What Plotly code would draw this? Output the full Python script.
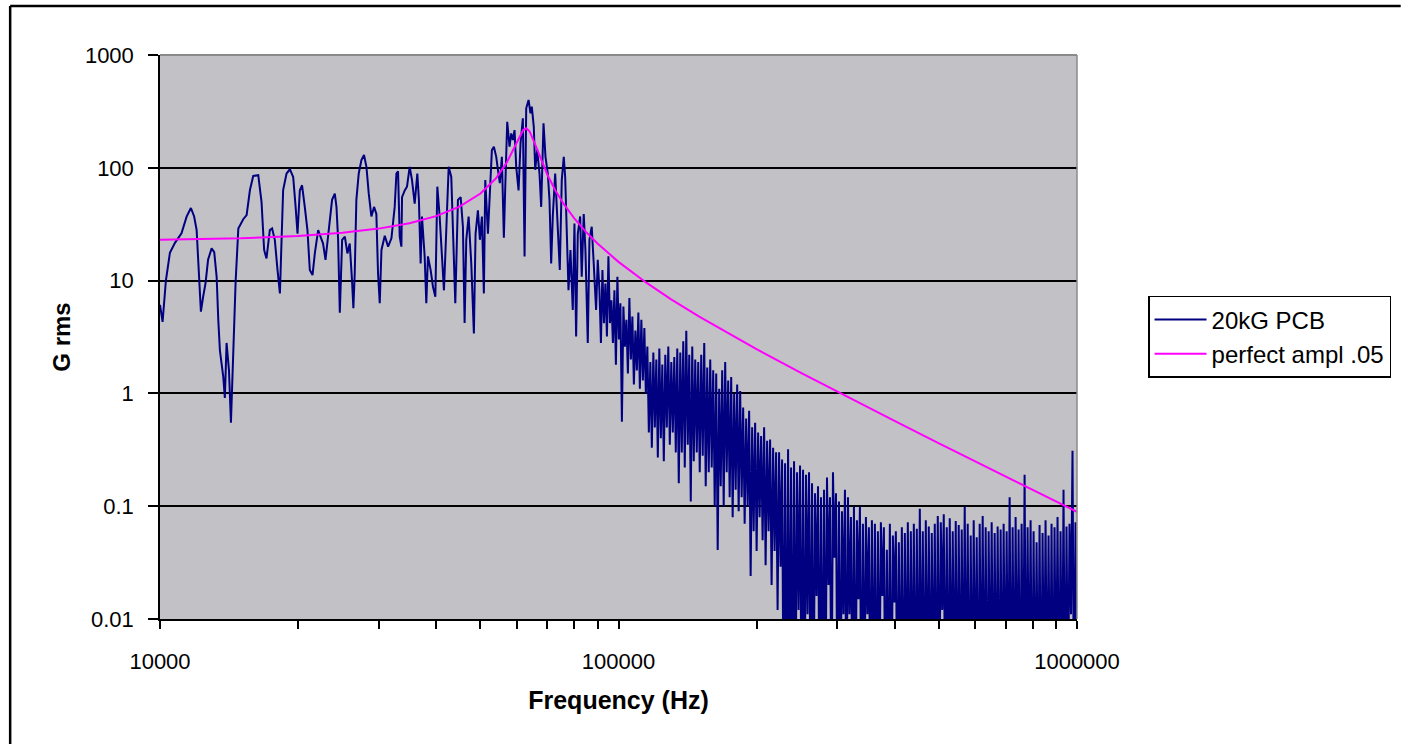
import numpy as np
import plotly.graph_objects as go

# ---------------- data ----------------
# Measured spectrum, 10 kHz .. 90 kHz: traced points (frequency in kHz, G rms)
lf_freq_khz = [
    10.00, 10.08, 10.13, 10.25, 10.30, 10.51, 10.78, 11.14, 11.43, 11.68,
    11.87, 12.02, 12.12, 12.28, 12.42, 12.57, 12.73, 12.96, 13.13, 13.29,
    13.40, 13.51, 13.74, 13.85, 13.97, 14.14, 14.28, 14.37, 14.50, 14.62,
    14.82, 15.19, 15.45, 15.71, 15.97, 16.38, 16.65, 16.87, 17.07, 17.36,
    17.56, 17.80, 18.04, 18.26, 18.56, 18.88, 19.20, 19.52, 19.76, 19.95,
    20.18, 20.41, 20.69, 20.97, 21.22, 21.51, 21.76, 22.13, 22.39, 22.68,
    22.96, 23.19, 23.46, 23.73, 24.06, 24.26, 24.46, 24.67, 24.96, 25.30,
    25.63, 25.93, 26.23, 26.41, 26.59, 26.81, 27.13, 27.50, 27.86, 28.20,
    28.53, 28.91, 29.30, 29.64, 29.89, 30.15, 30.41, 30.92, 31.44, 31.97,
    32.50, 32.78, 33.05, 33.33, 33.61, 33.72, 34.18, 34.57, 35.04, 35.45,
    35.93, 36.41, 36.70, 37.02, 37.27, 37.78, 38.09, 38.41, 38.93, 39.39,
    39.86, 40.26, 40.73, 41.20, 41.62, 42.11, 42.62, 43.18, 43.54, 44.06,
    44.65, 45.26, 45.78, 46.17, 46.56, 47.11, 47.74, 48.37, 48.78, 49.36,
    49.85, 50.36, 50.86, 51.22, 51.91, 52.42, 52.95, 53.48, 54.12, 54.58,
    55.11, 55.67, 56.23, 56.63, 57.19, 57.86, 58.35, 58.83, 59.33, 59.83,
    60.54, 61.14, 61.86, 62.39, 62.91, 63.66, 64.28, 64.70, 65.35, 65.82,
    66.47, 67.25, 67.82, 68.62, 69.30, 70.12, 70.71, 71.31, 71.89, 72.76,
    73.73, 74.46, 75.21, 75.97, 76.51, 77.27, 77.79, 78.56, 79.48, 80.16,
    80.83, 81.51, 82.48, 83.14, 83.98, 84.70, 85.70, 86.42, 87.42, 88.30,
    89.36, 90.11,
]
lf_grms = [
    6.1, 5.0, 4.3, 7.8, 10, 17.6, 21.6, 26.3, 36.9, 44,
    37, 28, 13.3, 5.3, 7.2, 9.5, 15.3, 19.3, 17.9, 10.8,
    4.5, 2.4, 1.4, 0.91, 2.8, 1.6, 0.55, 1.15, 3.5, 9.8,
    29, 35, 38, 63.5, 84.6, 86, 50, 18.7, 15.7, 28,
    29, 23, 12.5, 7.7, 63.5, 89, 97, 83, 45, 26,
    63, 70, 45, 28, 12.4, 11.2, 17.4, 28, 24.5, 21.3,
    15.3, 23, 34.5, 52, 59, 45, 23, 5.2, 23, 24.5,
    17.4, 21.3, 10, 5.7, 11.6, 52, 89, 117, 130, 102,
    59, 37, 45, 39, 11.6, 6.3, 18.7, 25, 20, 23.7,
    45, 89, 93, 24.5, 20, 55, 63, 68, 102, 78,
    48, 89, 52, 14.2, 37, 16.4, 6.3, 16.4, 12.4, 8.8,
    7.2, 68, 37, 16.4, 8.2, 28, 102, 83, 28, 6.3,
    52, 55, 30, 4.2, 23, 37, 14.2, 3.4, 26, 42,
    23, 37, 7.7, 78, 26, 63, 144, 154, 125, 96,
    73, 125, 24, 68, 256, 154, 202, 176, 216, 102,
    63, 165, 275, 16.4, 337, 399, 304, 348, 231, 96,
    144, 89, 45, 248, 125, 89, 52, 14.2, 37, 89,
    28, 12.4, 78, 125, 83, 23, 8.2, 18.7, 5.5, 32,
    3.2, 26, 37, 10.8, 39, 18.7, 2.8, 23, 30, 14.2,
    5.5, 15.3,
]

# Measured spectrum, 90.9 kHz .. 1 MHz (dense FFT bins): alternating
# local maxima and minima read along the band (minima under 0.01 fall
# below the axis and are only estimates)
HF_START_HZ = 90.87e3
HF_STOP_HZ = 1.0e6
hf_peaks = [
    8.2, 12.4, 9.4, 16.4, 6.7, 8.2, 10.8, 6.3,
    5.9, 4.5, 7.0, 4.8, 3.6, 5.2, 4.5, 3.8,
    2.6, 1.9, 2.3, 2.0, 2.5, 1.8, 2.2, 2.6, 1.9, 2.1,
    2.5, 2.3, 2.9, 3.6, 2.2, 2.6, 2.0, 1.9, 2.2, 2.8, 1.7, 2.0, 1.6,
    1.5, 1.1, 1.6, 1.9, 1.3, 1.4, 1.0, 1.2, 1.05, 0.75,
    0.6, 0.7, 0.5, 0.55, 0.45, 0.42, 0.5, 0.38, 0.39, 0.33, 0.3,
    0.3, 0.26, 0.24, 0.32, 0.22, 0.25, 0.2, 0.23, 0.21, 0.19, 0.2,
    0.16, 0.13, 0.15, 0.12, 0.14, 0.18, 0.12, 0.2, 0.13,
    0.11, 0.09, 0.14, 0.12, 0.08, 0.1, 0.075, 0.1, 0.07, 0.08,
    0.065, 0.075, 0.07, 0.06, 0.072, 0.065, 0.041, 0.07, 0.055, 0.06,
    0.048, 0.065, 0.058, 0.072, 0.06, 0.07, 0.063, 0.095, 0.06, 0.075,
    0.066, 0.058, 0.07, 0.082, 0.072, 0.085, 0.065, 0.078, 0.06, 0.074,
    0.068, 0.062, 0.1, 0.07, 0.055, 0.075, 0.053, 0.07, 0.082, 0.065,
    0.06, 0.072, 0.058, 0.066, 0.062, 0.07, 0.06, 0.12, 0.065, 0.08,
    0.062, 0.07, 0.19, 0.065, 0.075, 0.06, 0.048, 0.068, 0.058, 0.075,
    0.055, 0.07, 0.065, 0.08, 0.06, 0.14, 0.066, 0.07, 0.31, 0.072,
]
hf_troughs = [
    2.8, 4.2, 3.2, 4.2, 2.8, 1.8, 3.0, 0.56,
    2.6, 1.5, 2.0, 1.2, 1.6, 1.1, 1.3, 1.0,
    0.45, 0.33, 0.5, 0.27, 0.4, 0.25, 0.5, 0.35, 0.45, 0.3,
    0.16, 0.3, 0.22, 0.35, 0.11, 0.25, 0.3, 0.2, 0.28, 0.15, 0.2, 0.22, 0.1,
    0.041, 0.15, 0.1, 0.2, 0.12, 0.08, 0.14, 0.09, 0.12, 0.07,
    0.1, 0.024, 0.06, 0.04, 0.08, 0.05, 0.03, 0.06, 0.02, 0.04, 0.012,
    0.029, 0.0012, 0.0009, 0.0015, 0.0008, 0.0017, 0.012, 0.0012, 0.001, 0.011, 0.0014,
    0.001, 0.016, 0.0012, 0.0008, 0.0015, 0.02, 0.001, 0.035, 0.0012,
    0.001, 0.011, 0.0008, 0.011, 0.0012, 0.001, 0.015, 0.0008, 0.0015, 0.011,
    0.001, 0.0012, 0.0008, 0.0015, 0.016, 0.001, 0.0012, 0.0008, 0.014, 0.001,
    0.0012, 0.0008, 0.0015, 0.001, 0.0012, 0.0008, 0.001, 0.0015, 0.0008, 0.0012,
    0.001, 0.0015, 0.0008, 0.0012, 0.012, 0.001, 0.0008, 0.0015, 0.0012, 0.0008,
    0.001, 0.0015, 0.0012, 0.0008, 0.001, 0.0015, 0.0008, 0.0012, 0.001, 0.0008,
    0.0015, 0.001, 0.0012, 0.0008, 0.001, 0.0015, 0.0012, 0.0008, 0.001, 0.0015,
    0.0008, 0.0012, 0.001, 0.0015, 0.0008, 0.0012, 0.001, 0.0008, 0.0015, 0.0012,
    0.001, 0.0008, 0.0015, 0.001, 0.0012, 0.0008, 0.0015, 0.011, 0.001, 0.0012,
]

# Ideal response "perfect ampl .05" (frequency in kHz, G rms)
ideal_freq_khz = [
    10, 15, 20, 25, 30, 35, 40, 45, 50, 54, 57, 60, 62, 63, 64, 66, 68,
    70, 73, 76, 80, 85, 90, 100, 115, 130, 150, 175, 200, 250, 300, 400,
    500, 600, 700, 800, 900, 1000,
]
ideal_grms = [
    23.0, 23.7, 24.9, 26.6, 28.9, 32.3, 37.3, 45.3, 59.2, 80.3, 110.5,
    168, 217, 224, 210, 156.5, 113.6, 86.3, 61.9, 47.6, 35.8, 26.9, 21.3,
    14.66, 9.58, 6.86, 4.79, 3.33, 2.465, 1.518, 1.033, 0.570, 0.361,
    0.2497, 0.183, 0.1398, 0.1103, 0.0892,
]

series_names = ["20kG PCB", "perfect ampl .05"]
x_tick_vals = [1e4, 2e4, 3e4, 4e4, 5e4, 6e4, 7e4, 8e4, 9e4,
               1e5, 2e5, 3e5, 4e5, 5e5, 6e5, 7e5, 8e5, 9e5, 1e6]
x_tick_text = ["10000", "", "", "", "", "", "", "", "",
               "100000", "", "", "", "", "", "", "", "", "1000000"]
y_tick_vals = [0.01, 0.1, 1, 10, 100, 1000]
y_tick_text = ["0.01", "0.1", "1", "10", "100", "1000"]

# ---------------- assemble series ----------------
hf_vals = []
for p, t in zip(hf_peaks, hf_troughs):
    hf_vals.extend([p, t])
hf_freq_hz = np.geomspace(HF_START_HZ, HF_STOP_HZ, len(hf_vals))

meas_freq = list(np.array(lf_freq_khz) * 1000.0) + list(hf_freq_hz)
meas_vals = lf_grms + hf_vals
ideal_freq = list(np.array(ideal_freq_khz) * 1000.0)

FONT = "Liberation Sans, Arial, sans-serif"

fig = go.Figure()
fig.add_trace(go.Scatter(
    x=meas_freq, y=meas_vals, mode="lines", name=series_names[0],
    line=dict(color="#000080", width=2),
))
fig.add_trace(go.Scatter(
    x=ideal_freq, y=ideal_grms, mode="lines", name=series_names[1],
    line=dict(color="#FF00FF", width=2),
))

fig.update_layout(
    width=1402, height=744, autosize=False,
    margin=dict(l=160, r=324, t=55, b=125, pad=0),
    paper_bgcolor="white", plot_bgcolor="#c2c1c5",
    font=dict(family=FONT, color="black", size=22),
    showlegend=True,
    legend=dict(
        x=1.0763, y=0.5727, xanchor="left", yanchor="top",
        bgcolor="white", bordercolor="black", borderwidth=1.5,
        font=dict(family=FONT, size=24, color="black"),
        itemwidth=52, tracegroupgap=0,
    ),
    xaxis=dict(
        type="log", range=[4, 6],
        tickvals=x_tick_vals, ticktext=x_tick_text,
        ticks="outside", ticklen=8, tickwidth=1.5, tickcolor="black",
        showline=True, linecolor="black", linewidth=1.5,
        showgrid=False, zeroline=False,
        tickfont=dict(family=FONT, size=22, color="black"),
        ticklabelstandoff=14,
        title=dict(text="Frequency (Hz)", standoff=18,
                   font=dict(family=FONT, size=25, color="black", weight="bold")),
    ),
    yaxis=dict(
        type="log", range=[-2, 3],
        tickvals=y_tick_vals, ticktext=y_tick_text,
        ticks="outside", ticklen=10, tickwidth=1.5, tickcolor="black",
        showline=True, linecolor="black", linewidth=1.5,
        showgrid=True, gridcolor="black", gridwidth=1.5, zeroline=False,
        tickfont=dict(family=FONT, size=22, color="black"),
        ticklabelstandoff=10,
        title=dict(text="G rms", standoff=7,
                   font=dict(family=FONT, size=24, color="black", weight="bold")),
    ),
    shapes=[
        # plot-area border (top and right), grey
        dict(type="line", xref="paper", yref="paper", x0=0, x1=1, y0=1, y1=1,
             line=dict(color="#8a8a8a", width=2), layer="above"),
        dict(type="line", xref="paper", yref="paper", x0=1, x1=1, y0=0, y1=1,
             line=dict(color="#8a8a8a", width=1.5), layer="above"),
        # chart-area frame (top and left edges visible)
        dict(type="line", xref="paper", yref="paper",
             x0=-0.1634, x1=1.353, y0=1.0869, y1=1.0869,
             line=dict(color="black", width=2.5)),
        dict(type="line", xref="paper", yref="paper",
             x0=-0.1634, x1=-0.1634, y0=-0.2216, y1=1.0869,
             line=dict(color="black", width=2.5)),
    ],
)

fig.write_html("out.html")
